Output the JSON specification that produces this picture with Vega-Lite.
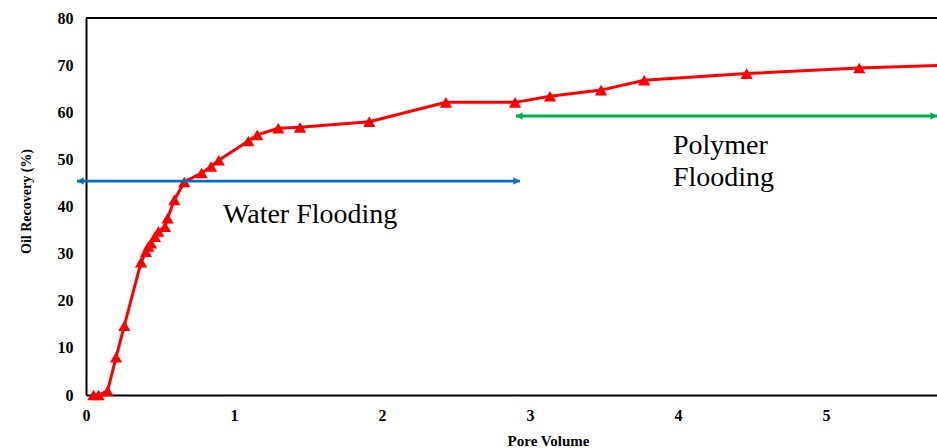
{
  "$schema": "https://vega.github.io/schema/vega-lite/v6.json",
  "width": 851,
  "height": 377,
  "autosize": "none",
  "padding": {"left": 86, "top": 18, "right": 0, "bottom": 53},
  "background": "white",
  "config": {
    "view": {"stroke": null},
    "axis": {
      "labelFont": "Liberation Serif",
      "labelFontWeight": "bold",
      "labelFontSize": 16,
      "labelColor": "black",
      "labelFlush": false,
      "titleFont": "Liberation Serif",
      "titleFontWeight": "bold",
      "titleColor": "black",
      "grid": false,
      "ticks": false,
      "domainColor": "black",
      "domainWidth": 2
    }
  },
  "datasets": {
    "recovery": [
      {"pv": 0.05, "rec": 0},
      {"pv": 0.085, "rec": 0},
      {"pv": 0.146, "rec": 0.9},
      {"pv": 0.203, "rec": 8.0},
      {"pv": 0.259, "rec": 14.7},
      {"pv": 0.372, "rec": 28.2},
      {"pv": 0.405, "rec": 30.4},
      {"pv": 0.421, "rec": 31.5},
      {"pv": 0.439, "rec": 32.2},
      {"pv": 0.466, "rec": 33.6},
      {"pv": 0.489, "rec": 34.7},
      {"pv": 0.534, "rec": 35.7},
      {"pv": 0.551, "rec": 37.5},
      {"pv": 0.597, "rec": 41.4},
      {"pv": 0.664, "rec": 45.2},
      {"pv": 0.781, "rec": 47.1},
      {"pv": 0.845, "rec": 48.5},
      {"pv": 0.897, "rec": 49.8},
      {"pv": 1.097, "rec": 53.9},
      {"pv": 1.157, "rec": 55.2},
      {"pv": 1.299, "rec": 56.6},
      {"pv": 1.446, "rec": 56.8},
      {"pv": 1.914, "rec": 58.0},
      {"pv": 2.432, "rec": 62.1},
      {"pv": 2.899, "rec": 62.1},
      {"pv": 3.135, "rec": 63.4},
      {"pv": 3.48, "rec": 64.7},
      {"pv": 3.772, "rec": 66.8},
      {"pv": 4.464, "rec": 68.2},
      {"pv": 5.225, "rec": 69.4},
      {"pv": 6.0, "rec": 70.2}
    ],
    "arrows": [
      {"phase": "Water", "start": -0.061, "end": 2.932, "level": 45.4},
      {"phase": "Polymer", "start": 2.905, "end": 5.75, "level": 59.2}
    ],
    "heads": [
      {"phase": "Water", "side": "left", "pv": -0.038, "level": 45.4},
      {"phase": "Water", "side": "right", "pv": 2.909, "level": 45.4},
      {"phase": "Polymer", "side": "left", "pv": 2.928, "level": 59.2},
      {"phase": "Polymer", "side": "right", "pv": 5.727, "level": 59.2}
    ],
    "labels": [
      {"label": "Water Flooding", "pv": 0.926, "level": 36.5},
      {"label": "Polymer", "pv": 3.966, "level": 51.1},
      {"label": "Flooding", "pv": 3.966, "level": 44.35}
    ]
  },
  "layer": [
    {
      "data": {"values": [{}]},
      "mark": {"type": "rule", "color": "black", "strokeWidth": 2},
      "encoding": {"y": {"datum": 80, "type": "quantitative"}}
    },
    {
      "data": {"name": "recovery"},
      "mark": {"type": "line", "color": "#FF0000", "strokeWidth": 3, "clip": true},
      "encoding": {
        "x": {
          "field": "pv", "type": "quantitative",
          "scale": {"domain": [0, 5.75], "nice": false, "zero": false},
          "axis": {
            "values": [0, 1, 2, 3, 4, 5],
            "format": "d",
            "title": "Pore Volume",
            "titleFontSize": 15,
            "labelPadding": 12,
            "titleX": 462,
            "titleY": 50,
            "titleBaseline": "alphabetic",
            "titleAnchor": null
          }
        },
        "y": {
          "field": "rec", "type": "quantitative",
          "scale": {"domain": [0, 80], "nice": false},
          "axis": {
            "values": [0, 10, 20, 30, 40, 50, 60, 70, 80],
            "format": "d",
            "title": "Oil Recovery (%)",
            "titleFontSize": 14,
            "labelPadding": 13,
            "titleAngle": -90,
            "titleX": -60,
            "titleY": 183,
            "titleAlign": "center",
            "titleBaseline": "middle",
            "titleAnchor": null
          }
        }
      }
    },
    {
      "data": {"name": "recovery"},
      "mark": {"type": "point", "shape": "triangle-up", "filled": true, "color": "#FF0000", "opacity": 1, "size": 150},
      "encoding": {
        "x": {"field": "pv", "type": "quantitative"},
        "y": {"field": "rec", "type": "quantitative"}
      }
    },
    {
      "data": {"name": "arrows"},
      "mark": {"type": "rule", "strokeWidth": 2.8},
      "encoding": {
        "x": {"field": "start", "type": "quantitative"},
        "x2": {"field": "end"},
        "y": {"field": "level", "type": "quantitative"},
        "color": {"field": "phase", "type": "nominal", "scale": {"domain": ["Water", "Polymer"], "range": ["#0070C0", "#00B050"]}, "legend": null}
      }
    },
    {
      "data": {"name": "heads"},
      "mark": {"type": "point", "filled": true, "opacity": 1, "size": 55},
      "encoding": {
        "x": {"field": "pv", "type": "quantitative"},
        "y": {"field": "level", "type": "quantitative"},
        "color": {"field": "phase", "type": "nominal", "legend": null},
        "shape": {"field": "side", "type": "nominal", "scale": {"domain": ["left", "right"], "range": ["triangle-left", "triangle-right"]}, "legend": null}
      }
    },
    {
      "data": {"name": "labels"},
      "mark": {"type": "text", "font": "Liberation Serif", "fontSize": 28, "align": "left", "baseline": "alphabetic", "color": "black"},
      "encoding": {
        "x": {"field": "pv", "type": "quantitative"},
        "y": {"field": "level", "type": "quantitative"},
        "text": {"field": "label"}
      }
    }
  ]
}
